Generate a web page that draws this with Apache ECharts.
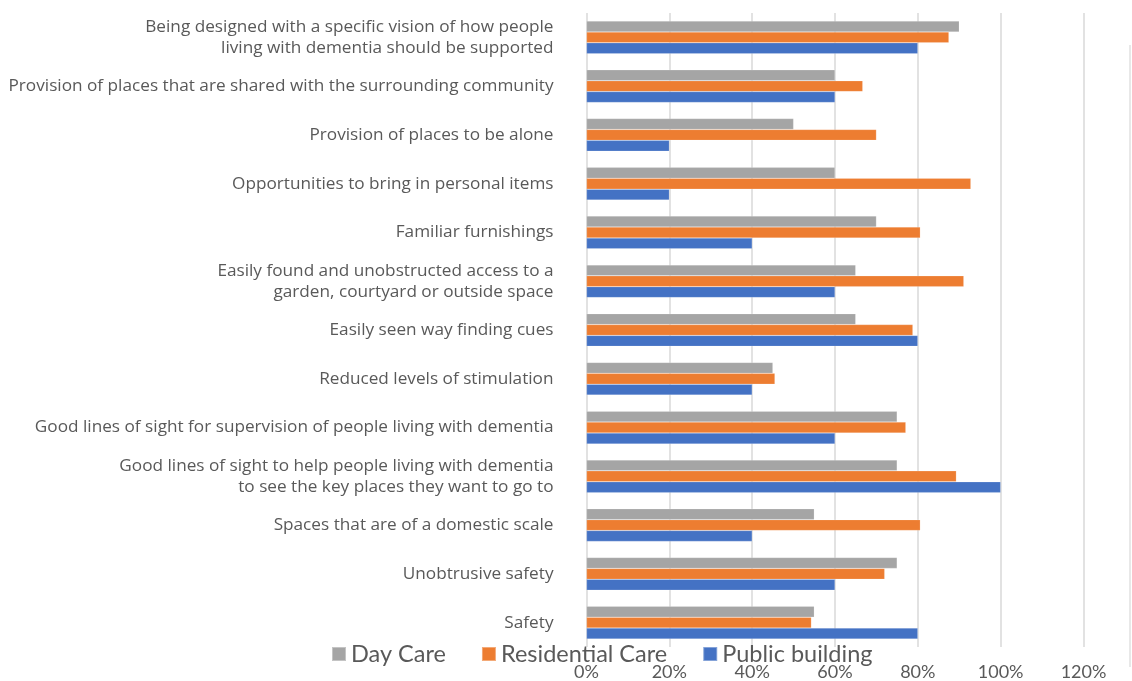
<!DOCTYPE html>
<html>
<head>
<meta charset="utf-8">
<script src="https://cdn.jsdelivr.net/npm/echarts@6/dist/echarts.min.js"></script>
<style>
html,body{margin:0;padding:0;background:#fff;}
#chart{width:1132px;height:681px;}
</style>
</head>
<body>
<div id="chart"></div>
<script>
var categories = [
  'Being designed with a specific vision of how people\nliving with dementia should be supported',
  'Provision of places that are shared with the surrounding community',
  'Provision of places to be alone',
  'Opportunities to bring in personal items',
  'Familiar furnishings',
  'Easily found and unobstructed access to a\ngarden, courtyard or outside space',
  'Easily seen way finding cues',
  'Reduced levels of stimulation',
  'Good lines of sight for supervision of people living with dementia',
  'Good lines of sight to help people living with dementia\nto see the key places they want to go to',
  'Spaces that are of a domestic scale',
  'Unobtrusive safety',
  'Safety'
];
var seriesNames = ['Day Care', 'Residential Care', 'Public building'];
var dayCare = [90, 60, 50, 60, 70, 65, 65, 45, 75, 75, 55, 75, 55];
var residentialCare = [87.5, 66.7, 70, 92.8, 80.6, 91.1, 78.8, 45.5, 77.1, 89.3, 80.6, 72, 54.3];
var publicBuilding = [80, 60, 20, 20, 40, 60, 80, 40, 60, 100, 40, 60, 80];
var xTicks = { min: 0, max: 120, interval: 20 };

var colors = ['#a5a5a5', '#ed7d31', '#4472c4'];
var dataSets = [dayCare, residentialCare, publicBuilding];

var chart = echarts.init(document.getElementById('chart'), null, { renderer: 'canvas' });
var option = {
  animation: false,
  color: colors,
  grid: { left: 586.5, right: 48.5, top: 13, bottom: 30, containLabel: false },
  legend: {
    left: 331,
    top: 642,
    padding: 0,
    itemWidth: 14,
    itemHeight: 14,
    itemGap: 35,
    icon: 'rect',
    textStyle: { fontFamily: 'Lato', fontSize: 23.5, color: '#595959' },
    data: seriesNames
  },
  xAxis: {
    type: 'value',
    min: xTicks.min,
    max: xTicks.max,
    interval: xTicks.interval,
    axisLine: { show: false },
    axisTick: { show: false },
    splitLine: { show: true, lineStyle: { color: '#d9d9d9', width: 1.5 } },
    axisLabel: {
      formatter: '{value}%',
      margin: 16,
      fontFamily: 'Lato',
      fontSize: 18,
      color: '#595959'
    }
  },
  yAxis: {
    type: 'category',
    inverse: true,
    data: categories,
    axisLine: { show: false },
    axisTick: { show: false },
    splitLine: { show: false },
    axisLabel: {
      margin: 33,
      fontFamily: 'Open Sans',
      fontSize: 17.2,
      lineHeight: 21,
      color: '#595959',
      align: 'right'
    }
  },
  graphic: [{
    type: 'line',
    shape: { x1: 1130, y1: 45, x2: 1130, y2: 667 },
    style: { stroke: '#e0e0e0', lineWidth: 1.5 },
    silent: true
  }],
  series: seriesNames.map(function (name, i) {
    return {
      name: name,
      type: 'bar',
      data: dataSets[i],
      barGap: '0%',
      barCategoryGap: '33%',
      itemStyle: { color: colors[i], borderColor: 'rgba(255,255,255,0.35)', borderWidth: 0.5 }
    };
  })
};
chart.setOption(option);
</script>
</body>
</html>
